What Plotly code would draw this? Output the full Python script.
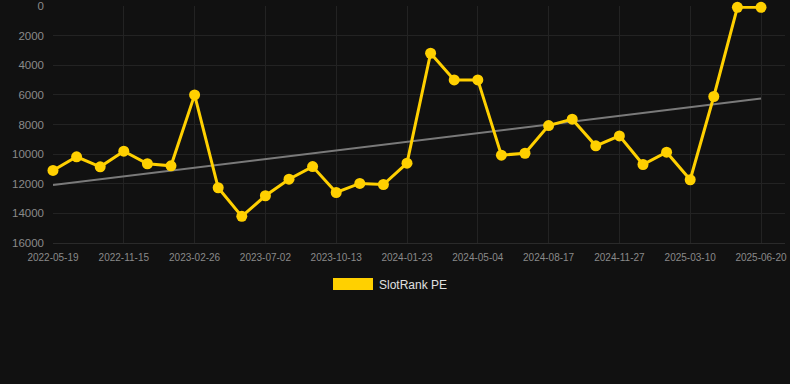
import numpy as np
import plotly.graph_objects as go

dates = ["2022-05-19", "2022-07-20", "2022-09-18", "2022-11-15", "2022-12-20", "2023-01-24",
         "2023-02-26", "2023-04-07", "2023-05-19", "2023-07-02", "2023-08-06", "2023-09-09",
         "2023-10-13", "2023-11-17", "2023-12-20", "2024-01-23", "2024-02-27", "2024-04-01",
         "2024-05-04", "2024-06-08", "2024-07-13", "2024-08-17", "2024-09-21", "2024-10-24",
         "2024-11-27", "2024-12-31", "2025-02-04", "2025-03-10", "2025-04-14", "2025-05-17",
         "2025-06-20"]
ranks = [11100, 10180, 10860, 9800, 10650, 10790, 6000, 12270, 14200, 12810, 11690, 10840,
         12590, 11980, 12050, 10610, 3190, 4990, 4990, 10070, 9940, 8070, 7640, 9440, 8770,
         10700, 9870, 11730, 6110, 90, 90]
y_ticks = [0, 2000, 4000, 6000, 8000, 10000, 12000, 14000, 16000]
y_tick_text = ["0", "2000", "4000", "6000", "8000", "10000", "12000", "14000", "16000"]
x_tick_labels = dates[::3]

idx = np.arange(len(ranks))
slope, intercept = np.polyfit(idx, ranks, 1)
trend = slope * idx + intercept

W, H = 790, 384
L, R, T, B = 53, 5, 6, 141

fig = go.Figure()
fig.add_trace(go.Scatter(x=dates, y=trend, mode="lines",
                         line=dict(color="#7a7a7a", width=2), hoverinfo="skip",
                         showlegend=False))
fig.add_trace(go.Scatter(x=dates, y=ranks, mode="lines+markers", name="SlotRank PE",
                         line=dict(color="#FFD000", width=3),
                         marker=dict(color="#FFD000", size=11),
                         cliponaxis=False, showlegend=False))

pw = W - L - R
ph = H - T - B
def px(xp):
    return (xp - L) / pw
def py(yp):
    return (H - B - yp) / ph

fig.add_shape(type="rect", xref="paper", yref="paper",
              x0=px(333), x1=px(373), y0=py(290), y1=py(278),
              fillcolor="#FFD000", line=dict(width=0))
fig.add_annotation(xref="paper", yref="paper", x=px(377), y=py(284.5),
                   text="SlotRank PE", showarrow=False, xanchor="left", yanchor="middle",
                   font=dict(family="Liberation Sans, Arial, sans-serif", size=12, color="#e0e0e0"))

fig.update_layout(
    width=W, height=H,
    margin=dict(l=L, r=R, t=T, b=B),
    paper_bgcolor="#111111", plot_bgcolor="#111111",
    font=dict(family="Liberation Sans, Arial, sans-serif", color="#8a8a8a"),
    xaxis=dict(type="category", categoryorder="array", categoryarray=dates,
               range=[0, len(dates) - 1 + 24.0 / 23.6], automargin=False,
               tickmode="array", tickvals=x_tick_labels, ticktext=x_tick_labels,
               showgrid=True, gridcolor="#232323", gridwidth=1,
               tickfont=dict(size=10, color="#8a8a8a"), ticklabeloverflow="allow",
               ticklabelstandoff=5,
               showline=True, linecolor="#2a2a2a", zeroline=False, ticks=""),
    yaxis=dict(range=[16000, 0], tickmode="array", tickvals=y_ticks, ticktext=y_tick_text,
               automargin=False, showgrid=True, gridcolor="#232323", gridwidth=1,
               tickfont=dict(size=11.5, color="#8a8a8a"), zeroline=False, ticks="",
               ticklabeloverflow="allow", ticklabelstandoff=8),
    hovermode=False,
)

fig.write_html("out.html", config={"displayModeBar": False, "staticPlot": True},
               post_script="document.body.style.margin='0';document.body.style.background='#111111';")
